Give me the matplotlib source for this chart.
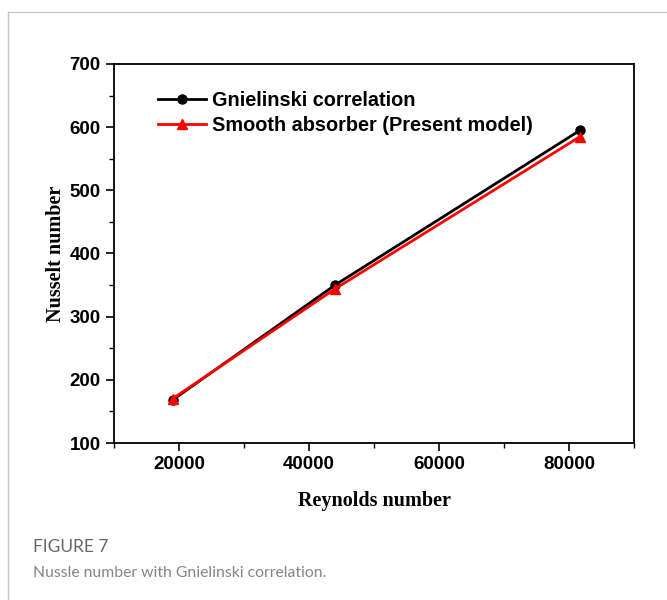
import matplotlib.pyplot as plt
from matplotlib.ticker import MultipleLocator
from matplotlib.lines import Line2D

# Reynolds number at the three test points
reynolds = [19000, 44000, 81700]
nu_gnielinski = [168, 350, 595]
nu_smooth = [170, 344, 585]

fig = plt.figure(figsize=(6.67, 6.0), dpi=100)

# light border round the figure panel
fig.add_artist(Line2D([8 / 667, 1.0], [1 - 12 / 600, 1 - 12 / 600],
                      color="#c8c8c8", lw=1.0))
fig.add_artist(Line2D([8 / 667, 8 / 667], [0.0, 1 - 12 / 600],
                      color="#c8c8c8", lw=1.0))

ax = fig.add_axes([114 / 667, 1 - 443 / 600, 520 / 667, 379 / 600])

ax.plot(reynolds, nu_gnielinski, color="black", lw=2.0, marker="o",
        markersize=6.5, label="Gnielinski correlation")
ax.plot(reynolds, nu_smooth, color="red", lw=2.0, marker="^",
        markersize=7, label="Smooth absorber (Present model)")

ax.set_xlim(10000, 90000)
ax.set_ylim(100, 700)
ax.xaxis.set_major_locator(MultipleLocator(20000))
ax.xaxis.set_minor_locator(MultipleLocator(10000))
ax.yaxis.set_major_locator(MultipleLocator(100))
ax.yaxis.set_minor_locator(MultipleLocator(50))
ax.tick_params(which="major", direction="out", length=6, width=1.2,
               top=False, right=False)
ax.tick_params(which="minor", direction="out", length=3.5, width=1.0,
               top=False, right=False)
for s in ax.spines.values():
    s.set_linewidth(1.3)

for lab in ax.get_xticklabels() + ax.get_yticklabels():
    lab.set_fontfamily("Liberation Sans")
    lab.set_fontweight("bold")
    lab.set_fontsize(13.5)

ax.set_xlabel("Reynolds number", fontfamily="Liberation Serif",
              fontweight="bold", fontsize=14.5, labelpad=13)
ax.set_ylabel("Nusselt number", fontfamily="Liberation Serif",
              fontweight="bold", fontsize=14.5, labelpad=3)

ax.legend(loc="upper left", bbox_to_anchor=(0.051, 0.977), frameon=False,
          handlelength=2.4, handletextpad=0.3, labelspacing=0.3,
          prop={"family": "Liberation Sans", "weight": "bold", "size": 14.3})

fig.text(33 / 667, 1 - 547 / 600, "FIGURE 7", fontfamily="Lato",
         fontsize=12.5, color="#666666", va="center")
fig.text(33 / 667, 1 - 573 / 600, "Nussle number with Gnielinski correlation.",
         fontfamily="Lato", fontsize=11.3, color="#858585", va="center")

fig.savefig("out.png", dpi=100)
